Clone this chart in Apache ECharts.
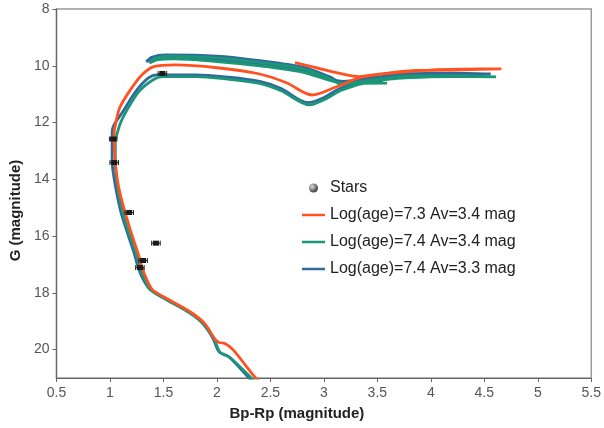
<!DOCTYPE html>
<html>
<head>
<meta charset="utf-8">
<script src="https://cdn.jsdelivr.net/npm/echarts@6/dist/echarts.min.js"></script>
<style>html,body{margin:0;padding:0;background:#fff}#c{width:604px;height:428px}</style>
</head>
<body>
<div id="c"></div>
<script>
// ---- data ----
var xTicks = [0.5, 5.5, 0.5];      // min, max, interval
var yTicks = [8, 21, 2];           // min, max, interval
var starX   = [1.49, 1.03, 1.04, 1.18, 1.43, 1.31, 1.28];
var starY   = [10.27, 12.58, 13.41, 15.17, 16.25, 16.86, 17.11];
var starErr = [0.04, 0.035, 0.04, 0.04, 0.04, 0.04, 0.04];

var isoOrange = [[2.40,21.15],[2.34,20.9],[2.15,20.0],[2.07,19.78],[2.02,19.75],[1.98,19.62],[1.89,19.1],[1.77,18.72],[1.56,18.26],[1.40,17.9],[1.34,17.5],[1.30,17.1],[1.27,16.7],[1.20,15.9],[1.14,15.15],[1.08,14.25],[1.05,13.4],[1.04,12.7],[1.04,12.35],[1.05,12.1],[1.09,11.49],[1.18,10.91],[1.30,10.32],[1.41,10.03],[1.61,9.97],[2.0,10.07],[2.4,10.29],[2.65,10.6],[2.89,11.03],[3.12,10.74],[3.33,10.43],[3.6,10.27],[4.0,10.15],[4.3,10.12],[4.66,10.11],[4.3,10.14],[3.8,10.18],[3.5,10.3],[3.33,10.38],[3.21,10.32],[2.73,9.89]];
var isoTeal = [[2.36,21.15],[2.31,20.96],[2.12,20.27],[2.03,20.1],[1.97,19.6],[1.87,19.08],[1.75,18.72],[1.54,18.27],[1.38,17.9],[1.32,17.5],[1.28,17.1],[1.25,16.7],[1.18,15.9],[1.12,15.18],[1.07,14.27],[1.05,13.4],[1.05,12.7],[1.07,12.35],[1.10,12.0],[1.15,11.62],[1.27,10.91],[1.40,10.5],[1.49,10.38],[1.8,10.38],[2.1,10.47],[2.4,10.62],[2.6,10.88],[2.87,11.38],[3.0,11.2],[3.17,10.85],[3.45,10.55],[3.8,10.42],[4.2,10.38],[4.61,10.39],[4.2,10.35],[3.8,10.36],[3.45,10.5],[3.2,10.62],[2.8,10.22],[2.4,10.0],[2.0,9.85],[1.6,9.76],[1.45,9.78],[1.37,9.9],[1.42,9.74],[1.55,9.66],[2.0,9.72],[2.4,9.88],[2.8,10.1],[3.05,10.45],[3.17,10.66],[3.33,10.62],[3.59,10.61]];
var isoBlue = [[2.33,21.15],[2.29,20.96],[2.11,20.25],[2.02,20.08],[1.96,19.58],[1.86,19.05],[1.74,18.68],[1.53,18.22],[1.37,17.86],[1.30,17.45],[1.26,17.05],[1.23,16.65],[1.16,15.85],[1.10,15.12],[1.05,14.22],[1.02,13.35],[1.02,12.7],[1.02,12.35],[1.03,12.15],[1.06,11.95],[1.12,11.62],[1.24,10.91],[1.36,10.43],[1.44,10.32],[1.8,10.32],[2.1,10.4],[2.4,10.55],[2.6,10.8],[2.85,11.3],[3.0,11.12],[3.15,10.8],[3.45,10.47],[3.8,10.33],[4.2,10.29],[4.56,10.29],[4.2,10.26],[3.8,10.28],[3.45,10.42],[3.18,10.55],[2.8,10.15],[2.4,9.93],[2.0,9.78],[1.6,9.7],[1.43,9.72],[1.34,9.86],[1.39,9.7],[1.52,9.62],[2.0,9.66],[2.4,9.82],[2.8,10.05],[3.05,10.38],[3.15,10.56],[3.3,10.55],[3.55,10.52]];

var names = ['Stars', 'Log(age)=7.3 Av=3.4 mag', 'Log(age)=7.4 Av=3.4 mag', 'Log(age)=7.4 Av=3.3 mag'];
var colors = ['#ff5222', '#1b9676', '#2f6a9f'];

// ---- chart ----
var starData = starX.map(function (x, i) { return [x, starY[i], starErr[i]]; });
var chart = echarts.init(document.getElementById('c'), null, {renderer: 'canvas'});
var font = 'Liberation Sans, Arial, sans-serif';
var lineIcon = 'path://M0,0 L24,0 L24,2.6 L0,2.6 Z';
function iso(name, data, color) {
  return {name: name, type: 'line', data: data, smooth: 0.3, symbol: 'none', clip: true,
    lineStyle: {color: color, width: 2.8}, itemStyle: {color: color}};
}
chart.setOption({
  animation: false,
  grid: {left: 55, right: 10, top: 9, bottom: 50, show: true, borderColor: '#999', borderWidth: 1.5},
  legend: {
    orient: 'vertical', left: 297, top: 175, itemWidth: 23, itemHeight: 9, itemGap: 11,
    textStyle: {fontFamily: font, fontSize: 16, color: '#222'},
    data: [
      {name: names[0], icon: 'circle', itemStyle: {color: new echarts.graphic.RadialGradient(0.35, 0.35, 0.7, [{offset: 0, color: '#ddd'}, {offset: 1, color: '#333'}])}},
      {name: names[1], icon: lineIcon}, {name: names[2], icon: lineIcon}, {name: names[3], icon: lineIcon}
    ]
  },
  xAxis: {
    type: 'value', min: xTicks[0], max: xTicks[1], interval: xTicks[2],
    name: 'Bp-Rp (magnitude)', nameLocation: 'middle', nameGap: 28,
    nameTextStyle: {fontFamily: font, fontSize: 15, fontWeight: 'bold', color: '#222', padding: [0, 54, 0, 0]},
    axisLine: {lineStyle: {color: '#666', width: 1.2}},
    axisTick: {show: true, inside: false, length: 4, lineStyle: {color: '#666'}},
    axisLabel: {fontFamily: font, fontSize: 14, color: '#555', margin: 8},
    splitLine: {show: false}
  },
  yAxis: {
    type: 'value', inverse: true, min: yTicks[0], max: yTicks[1], interval: yTicks[2],
    name: 'G (magnitude)', nameLocation: 'middle', nameGap: 15, nameRotate: 90,
    nameTextStyle: {fontFamily: font, fontSize: 15, fontWeight: 'bold', color: '#222', padding: [0, 34, 0, 0]},
    axisLine: {lineStyle: {color: '#666', width: 1.2}},
    axisTick: {show: true, inside: false, length: 4, lineStyle: {color: '#666'}},
    axisLabel: {fontFamily: font, fontSize: 14, color: '#555', margin: 7, showMaxLabel: false},
    splitLine: {show: false}
  },
  series: [
    iso(names[3], isoBlue, colors[2]),
    iso(names[2], isoTeal, colors[1]),
    iso(names[1], isoOrange, colors[0]),
    {
      name: names[0], type: 'custom', data: starData, z: 10,
      itemStyle: {color: '#555'},
      renderItem: function (params, api) {
        var x = api.value(0), y = api.value(1), e = api.value(2);
        var p0 = api.coord([x - e, y]), p1 = api.coord([x + e, y]), c = api.coord([x, y]);
        var ls = {stroke: '#222', lineWidth: 1};
        return {type: 'group', children: [
          {type: 'line', shape: {x1: p0[0], y1: p0[1], x2: p1[0], y2: p1[1]}, style: ls},
          {type: 'line', shape: {x1: p0[0], y1: p0[1] - 2.5, x2: p0[0], y2: p0[1] + 2.5}, style: ls},
          {type: 'line', shape: {x1: p1[0], y1: p1[1] - 2.5, x2: p1[0], y2: p1[1] + 2.5}, style: ls},
          {type: 'rect', shape: {x: c[0] - 3, y: c[1] - 2.5, width: 6, height: 5}, style: {fill: '#1a1a1a'}}
        ]};
      }
    }
  ]
});
</script>
</body>
</html>
